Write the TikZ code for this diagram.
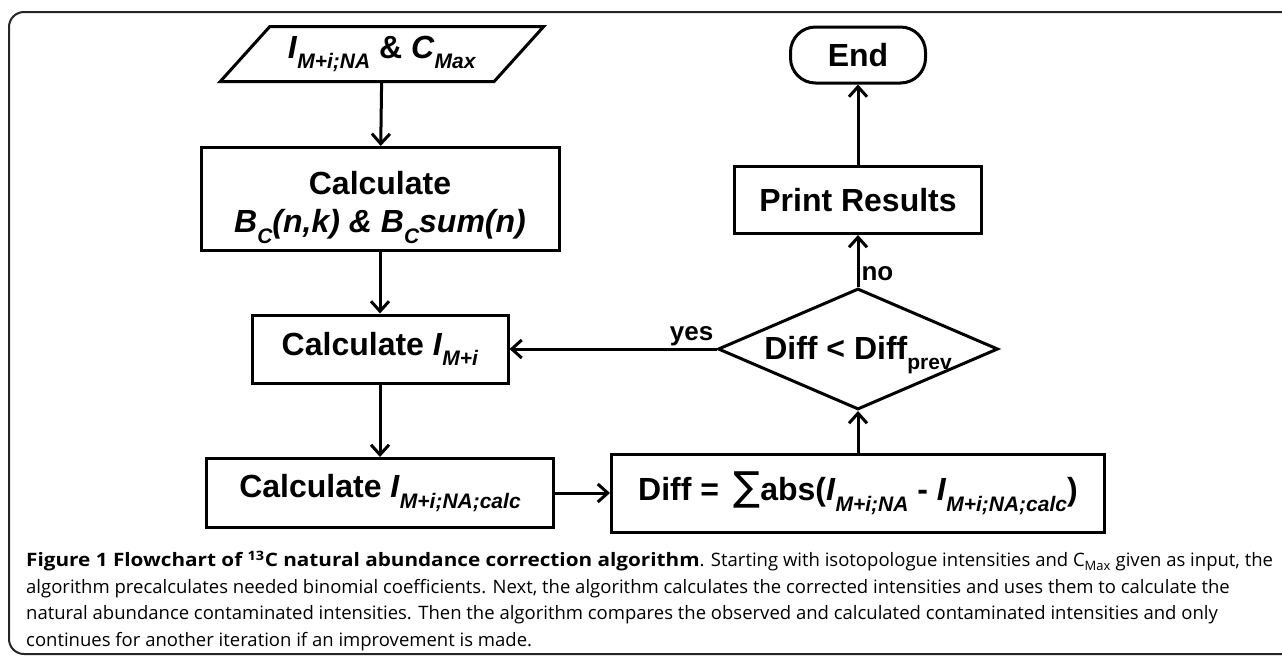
\documentclass[tikz,border=0pt]{standalone}
\usepackage{fontspec}
\setmainfont{Liberation Sans}
\newfontfamily\capfont{Open Sans}[BoldFeatures={FakeStretch=1.12}]
\newfontfamily\opfont{DejaVu Sans}
\usetikzlibrary{shapes.geometric,arrows.meta}

% lowered index for the flowchart labels
\newcommand{\lo}[1]{\raisebox{-0.33em}{\fontsize{21}{21}\selectfont #1}}
% thin summation sign
\newcommand{\bigsum}{{\opfont\mdseries\fontsize{40}{40}\selectfont ∑}}

\tikzset{
  block/.style={draw, line width=3pt, inner sep=0pt, align=center,
    font=\fontsize{32}{38}\selectfont\bfseries},
  io/.style={block, trapezium, trapezium left angle=41,
    trapezium right angle=139, trapezium stretches=true},
  term/.style={block, rounded corners=25pt},
  decision/.style={block, diamond},
  flow/.style={line width=3pt, -{Straight Barb[length=10pt,width=18pt]}},
  tag/.style={font=\fontsize{26}{26}\selectfont\bfseries, inner sep=2pt},
}

\begin{document}
\begin{tikzpicture}[x=1pt, y=-1pt]
    \useasboundingbox (0,0) rectangle (1282,656);
    \clip (0,0) rectangle (1282,656);
    \draw[black!85, line width=2pt, rounded corners=15pt]
        (1320,654) -- (9,654) -- (9,12) -- (1320,12);

    \node[io, minimum width=324pt, minimum height=55pt] (input) at (382,54)
        {\textit{I}\lo{\textit{M+i;NA}} \& \textit{C}\lo{\textit{Max}}};
    \node[block, minimum width=358pt, minimum height=103pt] (coeff) at (380,199)
        {\rule{0pt}{40pt}Calculate\\ \textit{B\lo{C}(n,k) \& B\lo{C}sum(n)}};
    \node[block, minimum width=256pt, minimum height=68pt] (corr) at (380,349)
        {Calculate \textit{I}\lo{\textit{M+i}}};
    \node[block, minimum width=347pt, minimum height=69pt] (natab) at (380,493)
        {Calculate \textit{I}\lo{\textit{M+i;NA;calc}}};
    \node[block, minimum width=493pt, minimum height=78pt] (diff) at (858,493)
        {Diff = \,\bigsum abs(\textit{I}\lo{\textit{M+i;NA}} - \textit{I}\lo{\textit{M+i;NA;calc}})};
    \node[decision, minimum width=280pt, minimum height=121pt] (test) at (858,349)
        {\smash{\makebox[0pt]{\raisebox{-10pt}{Diff < Diff\lo{prev}}}}};
    \node[block, minimum width=247pt, minimum height=67pt] (report) at (858,200)
        {Print Results};
    \node[term, minimum width=135pt, minimum height=56pt] (stop) at (858,55)
        {End};

    \draw[flow] (input) -- (coeff);
    \draw[flow] (coeff) -- (corr);
    \draw[flow] (corr) -- (natab);
    \draw[flow] (natab) -- (diff);
    \draw[flow] (diff) -- (test);
    \draw[flow] (test) -- node[tag, above, pos=0.12] {yes} (corr);
    \draw[flow] (test) -- node[tag, right, pos=0.25] {no} (report);
    \draw[flow] (report) -- (stop);

    \node[anchor=north west, inner sep=0pt, align=left,
          font=\capfont\fontsize{18.5}{26.5}\selectfont] (caption) at (26,551)
        {\textbf{Figure 1 Flowchart of \textsuperscript{13}C natural abundance correction algorithm}. Starting with isotopologue intensities and C\textsubscript{Max} given as input, the\\
         algorithm precalculates needed binomial coefficients. Next, the algorithm calculates the corrected intensities and uses them to calculate the\\
         natural abundance contaminated intensities. Then the algorithm compares the observed and calculated contaminated intensities and only\\
         continues for another iteration if an improvement is made.};
\end{tikzpicture}
\end{document}
